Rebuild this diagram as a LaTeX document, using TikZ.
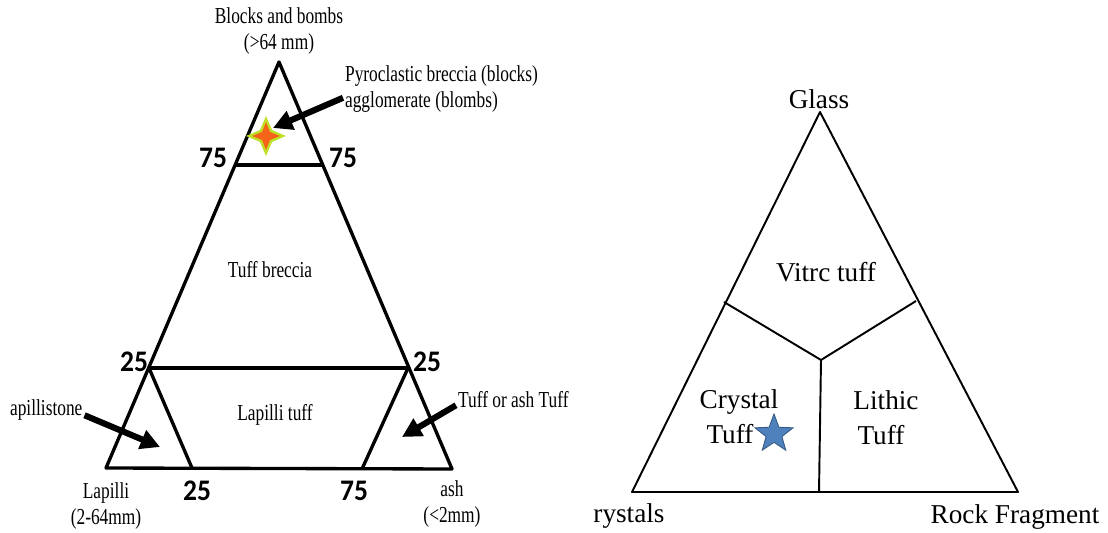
\documentclass[tikz,border=0pt]{standalone}
\usepackage{fontspec}
\setmainfont{Liberation Serif}
\newfontfamily\narrowserif[FakeStretch=0.76]{Liberation Serif}
\newfontfamily\numfont[FakeStretch=0.92]{Carlito}
\usetikzlibrary{arrows.meta, shapes.geometric}

\definecolor{starblue}{RGB}{79,129,189}
\definecolor{stargreen}{RGB}{190,225,40}
\definecolor{starorange}{RGB}{245,100,25}

\begin{document}
\begin{tikzpicture}[x=0.02cm, y=-0.02cm,
      tri/.style={line width=1.9pt, line join=round},
      trir/.style={line width=1.1pt, line join=round},
      lbl/.style={font=\narrowserif\fontsize{13}{14.5}\selectfont, align=center, inner sep=1pt},
      num/.style={font=\numfont\bfseries\fontsize{17}{18}\selectfont, inner sep=1pt},
      rlbl/.style={font=\fontsize{15.5}{16}\selectfont, align=center, inner sep=1pt},
      fat/.style={line width=3.5pt, -{Triangle[length=11pt,width=11pt]}}]

    \useasboundingbox (0,0) rectangle (1108,533);

    % ---- Left: grain size triangle ----
    \coordinate (bb)   at (279,62);
    \coordinate (lap)  at (106,468);
    \coordinate (ash)  at (452,469);
    \coordinate (t75l) at (235,165);
    \coordinate (t75r) at (323,165);
    \coordinate (m25l) at (149,368);
    \coordinate (m25r) at (408,368);
    \coordinate (b25)  at (192,468);
    \coordinate (b75)  at (362,469);

    \draw[tri] (bb) -- (lap) -- (ash) -- cycle;
    \draw[tri] (t75l) -- (t75r);
    \draw[tri] (m25l) -- (m25r);
    \draw[tri] (m25l) -- (b25);
    \draw[tri] (m25r) -- (b75);

    % ---- corner and field labels ----
    \node[lbl] (bbl)  at (279,31)  {Blocks and bombs\\(>64 mm)};
    \node[lbl] (lapl) at (106,506) {Lapilli\\(2-64mm)};
    \node[lbl] (ashl) at (452,504) {ash\\(<2mm)};
    \node[lbl] (tbr)  at (270,270) {Tuff breccia};
    \node[lbl] (ltf)  at (275,415) {Lapilli tuff};

    % ---- percentages ----
    \node[num] (n75l) at (213,158) {75};
    \node[num] (n75r) at (343,158) {75};
    \node[num] (n25l) at (134,362) {25};
    \node[num] (n25r) at (427,362) {25};
    \node[num] (n25b) at (197,491) {25};
    \node[num] (n75b) at (354,491) {75};

    % ---- pointers ----
    \node[lbl, align=left, anchor=west] (pyro) at (343,89)
          {Pyroclastic breccia (blocks)\\agglomerate (blombs)};
    \node[lbl, anchor=west] (apil) at (8,410) {apillistone};
    \node[lbl, anchor=west] (tat)  at (456,400) {Tuff or ash Tuff};

    \coordinate (pyrotip) at (273,128);
    \coordinate (apiltip) at (160,447);
    \coordinate (tattip)  at (402,437);

    \draw[fat] ([yshift=-5pt]pyro.west) -- (pyrotip);
    \draw[fat] ([yshift=-3pt]apil.east) -- (apiltip);
    \draw[fat] ([yshift=-3pt]tat.west) -- (tattip);

    % ---- four point star ----
    \fill[stargreen] (266,136) +(0,-20) -- +(6,-6) -- +(20,0) -- +(6,6)
          -- +(0,20) -- +(-6,6) -- +(-20,0) -- +(-6,-6) -- cycle;
    \fill[starorange] (266,136) +(0,-14) -- +(4,-4) -- +(14,0) -- +(4,4)
          -- +(0,14) -- +(-4,4) -- +(-14,0) -- +(-4,-4) -- cycle;

    % ---- Right: component triangle ----
    \coordinate (gl)  at (820,112);
    \coordinate (cr)  at (632,492);
    \coordinate (rf)  at (1018,492);
    \coordinate (jn)  at (821,360);
    \coordinate (el)  at (724,302);
    \coordinate (er)  at (916,301);
    \coordinate (bm)  at (819,492);

    \draw[trir] (gl) -- (cr) -- (rf) -- cycle;
    \draw[trir] (el) -- (jn) -- (er);
    \draw[trir] (jn) -- (bm);

    \node[rlbl] (gll)  at (819,99)  {Glass};
    \node[rlbl] (crl)  at (629,516) {rystals};
    \node[rlbl] (rfl)  at (1015,517) {Rock Fragment};
    \node[rlbl] (vit)  at (826,272) {Vitrc tuff};
    \node[rlbl] (cry)  at (739,402) {Crystal};
    \node[rlbl] (cryt) at (730,434) {Tuff};
    \node[rlbl] (lit)  at (886,400) {Lithic};
    \node[rlbl] (litt) at (881,435) {Tuff};

    \node[star, star points=5, star point ratio=2.4, minimum size=0.8cm,
          inner sep=0pt, fill=starblue, draw=starblue!70!black, line width=0.5pt]
          (bstar) at (774,434) {};

\end{tikzpicture}
\end{document}
